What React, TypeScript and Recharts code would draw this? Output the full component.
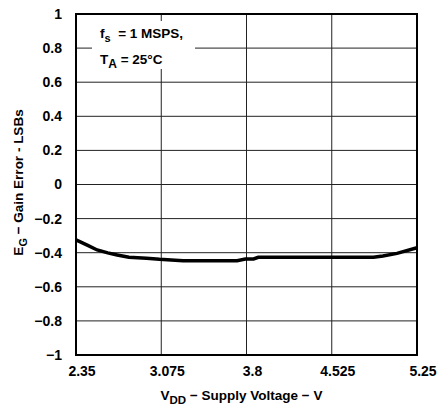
import React from "react";
import { CartesianGrid, Line, LineChart, ReferenceArea, XAxis, YAxis } from "recharts";

const voltage = [2.35, 2.45, 2.53, 2.62, 2.7, 2.8, 2.95, 3.06, 3.26, 3.58, 3.72, 3.79, 3.86, 3.9, 4.2, 4.6, 4.88, 4.96, 5.08, 5.25];
const gainError = [-0.325, -0.357, -0.384, -0.401, -0.413, -0.427, -0.432, -0.439, -0.447, -0.447, -0.447, -0.437, -0.437, -0.427, -0.427, -0.427, -0.427, -0.419, -0.404, -0.371];
const xTicks = [2.35, 3.075, 3.8, 4.525, 5.25];
const yTicks = [-1, -0.8, -0.6, -0.4, -0.2, 0, 0.2, 0.4, 0.6, 0.8, 1];

const data = voltage.map((v, i) => ({ v, e: gainError[i] }));

const font = "'Liberation Sans', Arial, sans-serif";

const fmtY = (v: number) => (v < 0 ? "\u2212" + Math.abs(v) : String(v));

export default function App() {
  return (
    <div style={{ position: "absolute", left: 0, top: 0, width: 440, height: 405, background: "#fff", fontFamily: font }}>
      <LineChart width={440} height={405} data={data} margin={{ top: 14, right: 23, bottom: 20, left: 16 }}>
        <CartesianGrid stroke="#222" strokeWidth={1} horizontalValues={yTicks} verticalValues={xTicks} />
        <XAxis
          dataKey="v"
          type="number"
          domain={[2.35, 5.25]}
          ticks={xTicks}
          interval={0}
          height={30}
          tickLine={false}
          axisLine={false}
          tick={{ fill: "#000", fontSize: 14, fontWeight: 700, fontFamily: font, dx: 6 }}
          tickMargin={5}
          label={{
            content: (p: any) => {
              const vb = p.viewBox || { x: 76, width: 341 };
              return (
                <text x={vb.x + vb.width / 2 - 5} y={400} textAnchor="middle" fontFamily={font} fontWeight={700} fontSize={13.5} fill="#000">
                  <tspan>V</tspan>
                  <tspan dy={4} fontSize={11.5}>DD</tspan>
                  <tspan dy={-4}> {"\u2212"} Supply Voltage {"\u2212"} V</tspan>
                </text>
              );
            },
          }}
        />
        <YAxis
          type="number"
          domain={[-1, 1]}
          ticks={yTicks}
          interval={0}
          width={60}
          tickLine={false}
          axisLine={false}
          tickFormatter={fmtY}
          tick={{ fill: "#000", fontSize: 14, fontWeight: 700, fontFamily: font }}
          tickMargin={8}
          label={{
            content: (p: any) => {
              const vb = p.viewBox || { y: 14, height: 341 };
              const cy = vb.y + vb.height / 2 - 2;
              return (
                <text x={23} y={cy} transform={`rotate(-90 23 ${cy})`} textAnchor="middle" fontFamily={font} fontWeight={700} fontSize={13.5} fill="#000">
                  <tspan>E</tspan>
                  <tspan dy={4} fontSize={11}>G</tspan>
                  <tspan dy={-4}> {"\u2212"} Gain Error - LSBs</tspan>
                </text>
              );
            },
          }}
        />
        <ReferenceArea x1={2.35} x2={5.25} y1={-1} y2={1} fill="none" stroke="#000" strokeWidth={2} fillOpacity={0} />
        <Line type="linear" dataKey="e" stroke="#000" strokeWidth={3.5} dot={false} isAnimationActive={false} />
      </LineChart>
      <div
        style={{
          position: "absolute",
          left: 92,
          top: 21,
          width: 103,
          height: 48,
          background: "#fff",
          fontWeight: 700,
          fontSize: 13.5,
          lineHeight: "21px",
          color: "#000",
          paddingLeft: 8,
          boxSizing: "border-box",
          paddingTop: 2,
        }}
      >
        <div>
          f<sub style={{ fontSize: 11, verticalAlign: -4 }}>s</sub>&nbsp; = 1 MSPS,
        </div>
        <div>
          T<sub style={{ fontSize: 12, verticalAlign: -4 }}>A</sub> = 25°C
        </div>
      </div>
    </div>
  );
}
